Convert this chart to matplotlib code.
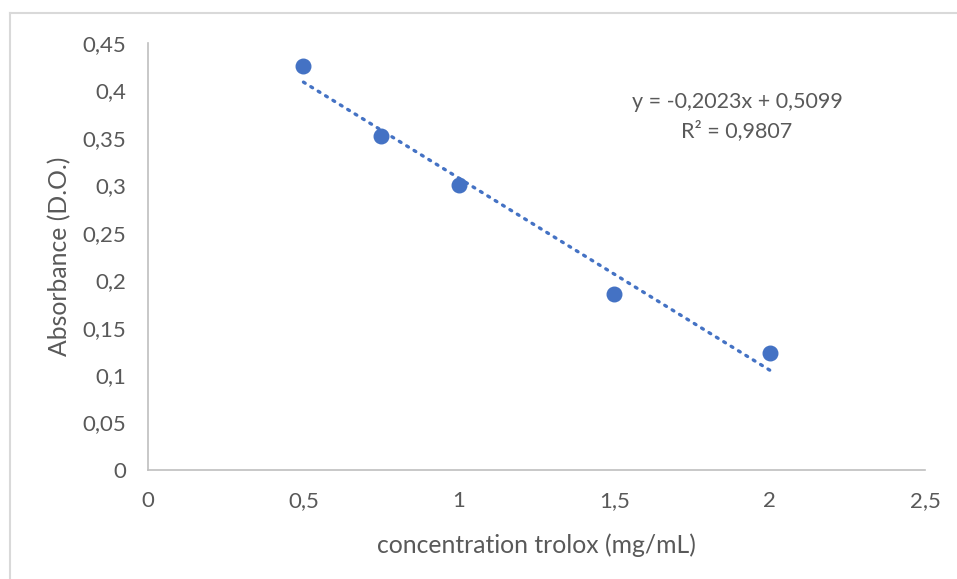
import numpy as np
import matplotlib.pyplot as plt
from matplotlib.ticker import FuncFormatter, MultipleLocator
from matplotlib.lines import Line2D

# valeurs
concentration = np.array([0.5, 0.75, 1.0, 1.5, 2.0])
absorbance = np.array([0.426, 0.352, 0.300, 0.185, 0.123])
equation = "y = -0,2023x + 0,5099"
r2_text = "R² = 0,9807"

plt.rcParams['font.family'] = ['Lato', 'DejaVu Sans']
grey = '#595959'
blue = '#4472C4'

fig = plt.figure(figsize=(9.57, 5.79), dpi=100)
ax = fig.add_axes([0.1547, 0.1883, 0.812, 0.7375])

# cadre extérieur (seuls les bords haut et gauche sont visibles)
W, H = 957, 579
fig.lines.append(Line2D([9.5 / W, 1], [1 - 12.5 / H] * 2, transform=fig.transFigure,
                        color='#D9D9D9', linewidth=1.5))
fig.lines.append(Line2D([9.5 / W] * 2, [0, 1 - 12.5 / H], transform=fig.transFigure,
                        color='#D9D9D9', linewidth=1.5))

# courbe de tendance linéaire
a, b = np.polyfit(concentration, absorbance, 1)
xt = np.linspace(concentration.min(), concentration.max(), 50)
ax.plot(xt, a * xt + b, linestyle=(0, (0.6, 2.0)), color=blue, linewidth=2.4,
        dash_capstyle='round', zorder=2)
ax.scatter(concentration, absorbance, s=110, color=blue, zorder=3)

ax.text(1.895, 0.388, equation, ha='center', va='center', fontsize=15.5, color=grey)
ax.text(1.895, 0.358, r2_text, ha='center', va='center', fontsize=15.5, color=grey)

ax.set_xlim(0, 2.5)
ax.set_ylim(0, 0.45)
ax.xaxis.set_major_locator(MultipleLocator(0.5))
ax.yaxis.set_major_locator(MultipleLocator(0.05))
fmt = FuncFormatter(lambda v, p: f"{v:.2f}".rstrip('0').rstrip('.').replace('.', ','))
ax.xaxis.set_major_formatter(fmt)
ax.yaxis.set_major_formatter(fmt)

for s in ['top', 'right']:
    ax.spines[s].set_visible(False)
for s in ['left', 'bottom']:
    ax.spines[s].set_color('#BFBFBF')
    ax.spines[s].set_linewidth(1.2)
ax.tick_params(axis='both', length=0, labelsize=16, labelcolor=grey)
ax.tick_params(axis='y', pad=16)
ax.tick_params(axis='x', pad=15)

ax.set_xlabel("concentration trolox (mg/mL)", fontsize=17.8, color=grey, labelpad=16)
ax.set_ylabel("Absorbance (D.O.)", fontsize=17.8, color=grey, labelpad=8)

fig.savefig("out.png", dpi=100)
